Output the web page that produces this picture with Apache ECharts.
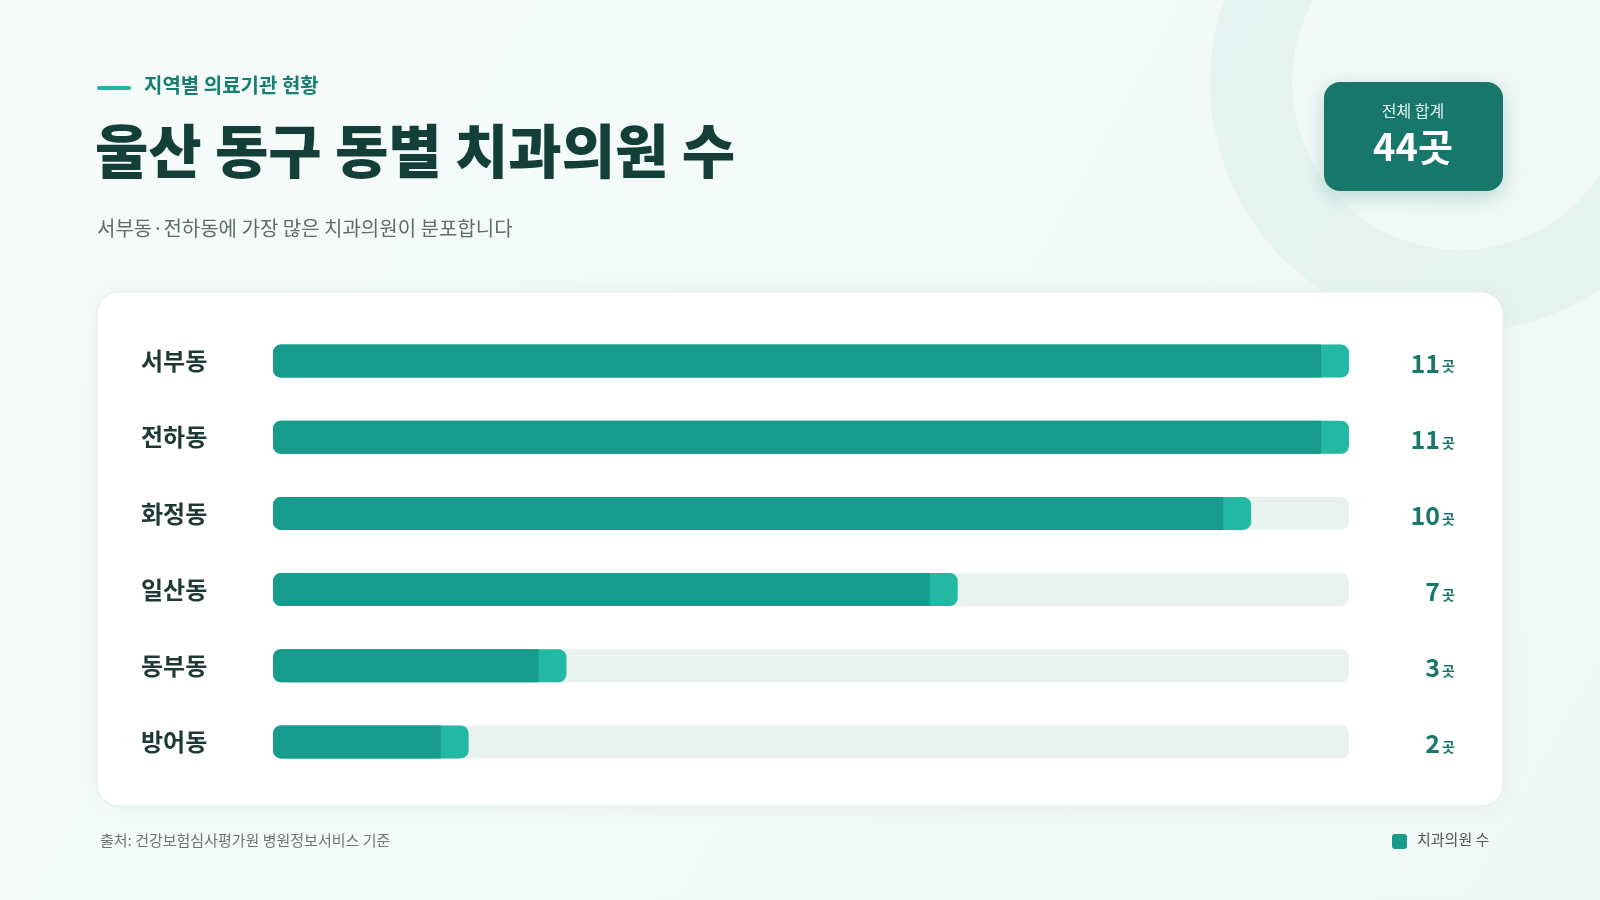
<!DOCTYPE html>
<html><head><meta charset="utf-8">
<script src="https://cdn.jsdelivr.net/npm/echarts@6/dist/echarts.min.js"></script>
<style>html,body{margin:0;padding:0;}#c{width:1600px;height:900px;}</style>
</head><body><div id="c"></div>
<script>
const categories = ['서부동','전하동','화정동','일산동','동부동','방어동'];
const values = [11,11,10,7,3,2];
const valueLabels = ['11','11','10','7','3','2'];
const F = '"Noto Sans CJK KR","Noto Sans",sans-serif';
const chart = echarts.init(document.getElementById('c'));
chart.setOption({
  backgroundColor: new echarts.graphic.LinearGradient(0,0,1,1,[{offset:0,color:'#f6fbfa'},{offset:1,color:'#eff8f5'}]),
  grid:{left:273,right:251,top:323,bottom:120},
  xAxis:{type:'value',min:0,max:11,show:false},
  yAxis:{type:'category',data:categories,inverse:true,axisLine:{show:false},axisTick:{show:false},
    axisLabel:{margin:132,align:'left',fontFamily:F,fontSize:24,fontWeight:'bold',color:'#1f3a35'}},
  graphic:[
    {type:'ring',shape:{cx:1460,cy:82,r:250,r0:168},style:{fill:'rgba(210,235,229,0.35)'},z:-10},
    {type:'rect',shape:{x:97,y:86,width:34,height:4,r:2},style:{fill:'#22b5a0'}},
    {type:'text',left:144,top:75,style:{text:'지역별 의료기관 현황',font:'bold 20px '+F,fill:'#167f72'}},
    {type:'text',left:95,top:122,style:{text:'울산 동구 동별 치과의원 수',font:'900 58px '+F,fill:'#133f38'}},
    {type:'text',left:97,top:218,style:{text:'서부동·전하동에 가장 많은 치과의원이 분포합니다',font:'20px '+F,fill:'#5f6d6a'}},
    {type:'rect',shape:{x:1324,y:82,width:179,height:109,r:16},style:{fill:'#17776b',shadowBlur:20,shadowColor:'rgba(23,119,107,0.25)',shadowOffsetY:6}},
    {type:'text',x:1413,y:103,style:{text:'전체 합계',font:'16px '+F,fill:'#e6f4f1',align:'center'}},
    {type:'text',x:1413,y:128,style:{text:'44곳',font:'bold 38px '+F,fill:'#ffffff',align:'center'}},
    {type:'rect',z:-5,shape:{x:97,y:292,width:1406,height:514,r:22},style:{fill:'#ffffff',stroke:'#e3efec',lineWidth:1,shadowBlur:24,shadowColor:'rgba(0,80,70,0.06)'}},
    {type:'text',left:100,top:833,style:{text:'출처: 건강보험심사평가원 병원정보서비스 기준',font:'15px '+F,fill:'#6b7774'}},
    {type:'rect',shape:{x:1392,y:834,width:15,height:15,r:3},style:{fill:'#169b8c'}},
    {type:'text',left:1417,top:832,style:{text:'치과의원 수',font:'15px '+F,fill:'#4d5a57'}}
  ],
  series:[{
    type:'custom',
    data: values.map((v,i)=>[v,i]),
    renderItem:function(params,api){
      const v=api.value(0), i=api.value(1);
      const h=33;
      const p0=api.coord([0,i]), p1=api.coord([v,i]), pm=api.coord([11,i]);
      const y=p0[1]-h/2, x0=p0[0], w=p1[0]-x0, cap=28;
      const lbl = valueLabels[params.dataIndex];
      return {type:'group',children:[
        {type:'rect',shape:{x:x0,y:y,width:pm[0]-x0,height:h,r:8},style:{fill:'#e8f3f0'}},
        {type:'rect',shape:{x:x0,y:y,width:w,height:h,r:8},style:{fill:'#22b8a3'}},
        {type:'rect',shape:{x:x0,y:y,width:w-cap,height:h,r:[8,0,0,8]},style:{fill:'#169b8c'}},
        {type:'text',style:{x:1440,y:p0[1]+2,text:lbl,font:'bold 25px '+F,fill:'#17776b',align:'right',verticalAlign:'middle'}},
        {type:'text',style:{x:1442,y:p0[1]+5,text:'곳',font:'bold 14px '+F,fill:'#17776b',align:'left',verticalAlign:'middle'}}
      ]};
    }
  }]
});
</script></body></html>
